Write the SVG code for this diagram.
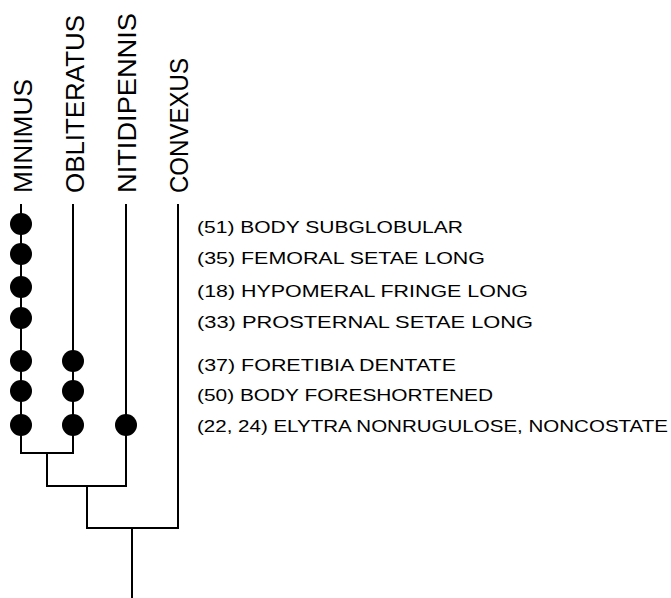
<svg xmlns="http://www.w3.org/2000/svg" width="671" height="598" viewBox="0 0 671 598">
<style>
.ln{stroke:#000;stroke-width:2;fill:none;stroke-linecap:square}
.dot{fill:#000}
.sp{font-family:"Liberation Sans",Arial,sans-serif;font-size:26px;fill:#000}
.ch{font-family:"Liberation Sans",Arial,sans-serif;font-size:16.5px;fill:#000}
</style>
<rect width="671" height="598" fill="#fff"/>
<g id="connectors">
<path class="ln" d="M21,205V453H73V205"/>
<path class="ln" d="M47,453V486H126V205"/>
<path class="ln" d="M87,486V528H178V205"/>
<path class="ln" d="M132,528V598"/>
</g>
<g id="minimus">
<text class="sp" transform="translate(32,193) rotate(-90)" textLength="114" lengthAdjust="spacingAndGlyphs">MINIMUS</text>
<circle class="dot" cx="21" cy="224" r="11"/>
<circle class="dot" cx="21" cy="254" r="11"/>
<circle class="dot" cx="21" cy="287" r="11"/>
<circle class="dot" cx="21" cy="318" r="11"/>
<circle class="dot" cx="21" cy="361" r="11"/>
<circle class="dot" cx="21" cy="391" r="11"/>
<circle class="dot" cx="21" cy="425" r="11"/>
</g>
<g id="obliteratus">
<text class="sp" transform="translate(84,193) rotate(-90)" textLength="178" lengthAdjust="spacingAndGlyphs">OBLITERATUS</text>
<circle class="dot" cx="73" cy="361" r="11"/>
<circle class="dot" cx="73" cy="391" r="11"/>
<circle class="dot" cx="73" cy="425" r="11"/>
</g>
<g id="nitidipennis">
<text class="sp" transform="translate(136,193) rotate(-90)" textLength="180" lengthAdjust="spacingAndGlyphs">NITIDIPENNIS</text>
<circle class="dot" cx="126" cy="425" r="11"/>
</g>
<g id="convexus">
<text class="sp" transform="translate(188,193) rotate(-90)" textLength="135" lengthAdjust="spacingAndGlyphs">CONVEXUS</text>
</g>
<g id="characters">
<text class="ch" x="197" y="233" textLength="266" lengthAdjust="spacingAndGlyphs">(51) BODY SUBGLOBULAR</text>
<text class="ch" x="197" y="264" textLength="288" lengthAdjust="spacingAndGlyphs">(35) FEMORAL SETAE LONG</text>
<text class="ch" x="197" y="297" textLength="331" lengthAdjust="spacingAndGlyphs">(18) HYPOMERAL  FRINGE LONG</text>
<text class="ch" x="197" y="328" textLength="336" lengthAdjust="spacingAndGlyphs">(33) PROSTERNAL SETAE LONG</text>
<text class="ch" x="197" y="371" textLength="259" lengthAdjust="spacingAndGlyphs">(37) FORETIBIA DENTATE</text>
<text class="ch" x="197" y="401" textLength="296" lengthAdjust="spacingAndGlyphs">(50) BODY FORESHORTENED</text>
<text class="ch" x="197" y="432" textLength="471" lengthAdjust="spacingAndGlyphs">(22, 24) ELYTRA NONRUGULOSE, NONCOSTATE</text>
</g>
</svg>
